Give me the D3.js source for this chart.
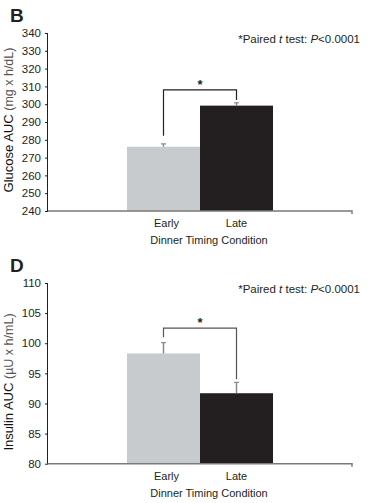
<!DOCTYPE html>
<html><head><meta charset="utf-8">
<script src="https://cdn.jsdelivr.net/npm/d3@7"></script>
<style>body{margin:0;background:#fff;} svg{display:block;font-family:"Liberation Sans",Arial,sans-serif;}</style>
</head><body>
<svg id="c" width="381" height="503"></svg>
<script>
const categories = ["Early", "Late"];
const glucoseMeans = [276.1, 299.2];
const glucoseSE = [1.6, 1.6];
const glucoseTicks = [240, 250, 260, 270, 280, 290, 300, 310, 320, 330, 340];
const glucoseBracket = [282.3, 308, 302.4]; // left end, top, right end
const insulinMeans = [98.3, 91.7];
const insulinSE = [1.8, 1.8];
const insulinTicks = [80, 85, 90, 95, 100, 105, 110];
const insulinBracket = [101, 102.5, 94];
const barColors = ["#c8cbcd", "#231f20"];

const svg = d3.select("#c");

function panel(cfg) {
  const g = svg.append("g");
  const y = d3.scaleLinear().domain(cfg.domain).range([cfg.yBottom, cfg.yTop]);
  const x = d3.scaleBand().domain(categories).range([127, 273]).padding(0);
  const axisL = 48, axisR = 352;

  g.append("text").attr("x", 10).attr("y", cfg.yTop - 11).attr("font-size", 19).attr("font-weight", "bold").attr("fill", "#231f20").text(cfg.letter);

  // bars
  g.selectAll("rect.bar").data(cfg.means).join("rect")
    .attr("x", (d, i) => x(categories[i])).attr("width", x.bandwidth())
    .attr("y", d => y(d)).attr("height", d => y(cfg.domain[0]) - y(d))
    .attr("fill", (d, i) => barColors[i]);

  // error bars
  cfg.means.forEach((m, i) => {
    const cx = x(categories[i]) + x.bandwidth() / 2;
    g.append("line").attr("x1", cx).attr("x2", cx).attr("y1", y(m)).attr("y2", y(m + cfg.se[i])).attr("stroke", "#8a8a8a").attr("stroke-width", 1.5);
    g.append("line").attr("x1", cx - 2.5).attr("x2", cx + 2.5).attr("y1", y(m + cfg.se[i])).attr("y2", y(m + cfg.se[i])).attr("stroke", "#8a8a8a").attr("stroke-width", 1.2);
  });

  // bracket
  const bx0 = x(categories[0]) + x.bandwidth() / 2, bx1 = x(categories[1]) + x.bandwidth() / 2;
  const [bl, bt, br] = cfg.bracket;
  g.append("path").attr("d", `M${bx0},${y(bl)}V${y(bt)}H${bx1}V${y(br)}`).attr("fill", "none").attr("stroke", cfg.bracketColor).attr("stroke-width", 1.2);
  g.append("text").attr("x", (bx0 + bx1) / 2).attr("y", y(bt) - 1).attr("text-anchor", "middle").attr("font-size", 13).attr("font-weight", "bold").attr("fill", "#231f20").text("*");

  // y axis
  const ya = d3.axisLeft(y).tickValues(cfg.ticks).tickSize(3).tickPadding(4).tickFormat(d3.format("d"));
  const yg = g.append("g").attr("transform", `translate(${axisL},0)`).call(ya);
  yg.select(".domain").attr("d", `M-0.5,${cfg.yTop}V${cfg.yBottom}`).attr("stroke", "#231f20");
  yg.selectAll(".tick line").attr("stroke", "#231f20");
  yg.selectAll(".tick text").attr("font-size", 11.5).attr("fill", "#231f20").attr("font-family", "Liberation Sans, Arial, sans-serif");

  // x axis baseline
  g.append("path").attr("d", `M${axisL},${cfg.yBottom}H${axisR}V${cfg.yBottom + 3}`).attr("fill", "none").attr("stroke", "#7a7a7a").attr("stroke-width", 1.5);

  // x category labels
  categories.forEach((c, i) => {
    g.append("text").attr("x", x(c) + x.bandwidth() / 2 + (i === 0 ? 3 : 0)).attr("y", cfg.yBottom + 16).attr("text-anchor", "middle").attr("font-size", 11).attr("fill", "#231f20").text(c);
  });
  g.append("text").attr("x", 209).attr("y", cfg.yBottom + 33).attr("text-anchor", "middle").attr("font-size", 11).attr("fill", "#231f20").text("Dinner Timing Condition");

  // y label
  const yl = g.append("text").attr("transform", `translate(13,${cfg.labelY}) rotate(-90)`).attr("text-anchor", "middle").attr("font-size", 13).attr("fill", "#111");
  yl.append("tspan").text(cfg.labelMain);
  yl.append("tspan").attr("font-size", 12.5).attr("fill", "#555").text(cfg.labelUnit);

  // annotation
  const an = g.append("text").attr("x", 360).attr("y", cfg.yTop + 9.5).attr("text-anchor", "end").attr("font-size", 11.5).attr("fill", "#231f20");
  an.append("tspan").text("*Paired ");
  an.append("tspan").attr("font-style", "italic").text("t");
  an.append("tspan").text(" test: ");
  an.append("tspan").attr("font-style", "italic").text("P");
  an.append("tspan").text("<0.0001");
}

panel({letter: "B", domain: [240, 340], yTop: 33, yBottom: 211, means: glucoseMeans, se: glucoseSE, ticks: glucoseTicks,
  bracket: glucoseBracket, bracketColor: "#231f20", labelY: 120, labelMain: "Glucose AUC ", labelUnit: "(mg x h/dL)"});
panel({letter: "D", domain: [80, 110], yTop: 283, yBottom: 463.7, means: insulinMeans, se: insulinSE, ticks: insulinTicks,
  bracket: insulinBracket, bracketColor: "#555", labelY: 382, labelMain: "Insulin AUC ", labelUnit: "(\u00b5U x h/mL)"});
</script>
</body></html>
